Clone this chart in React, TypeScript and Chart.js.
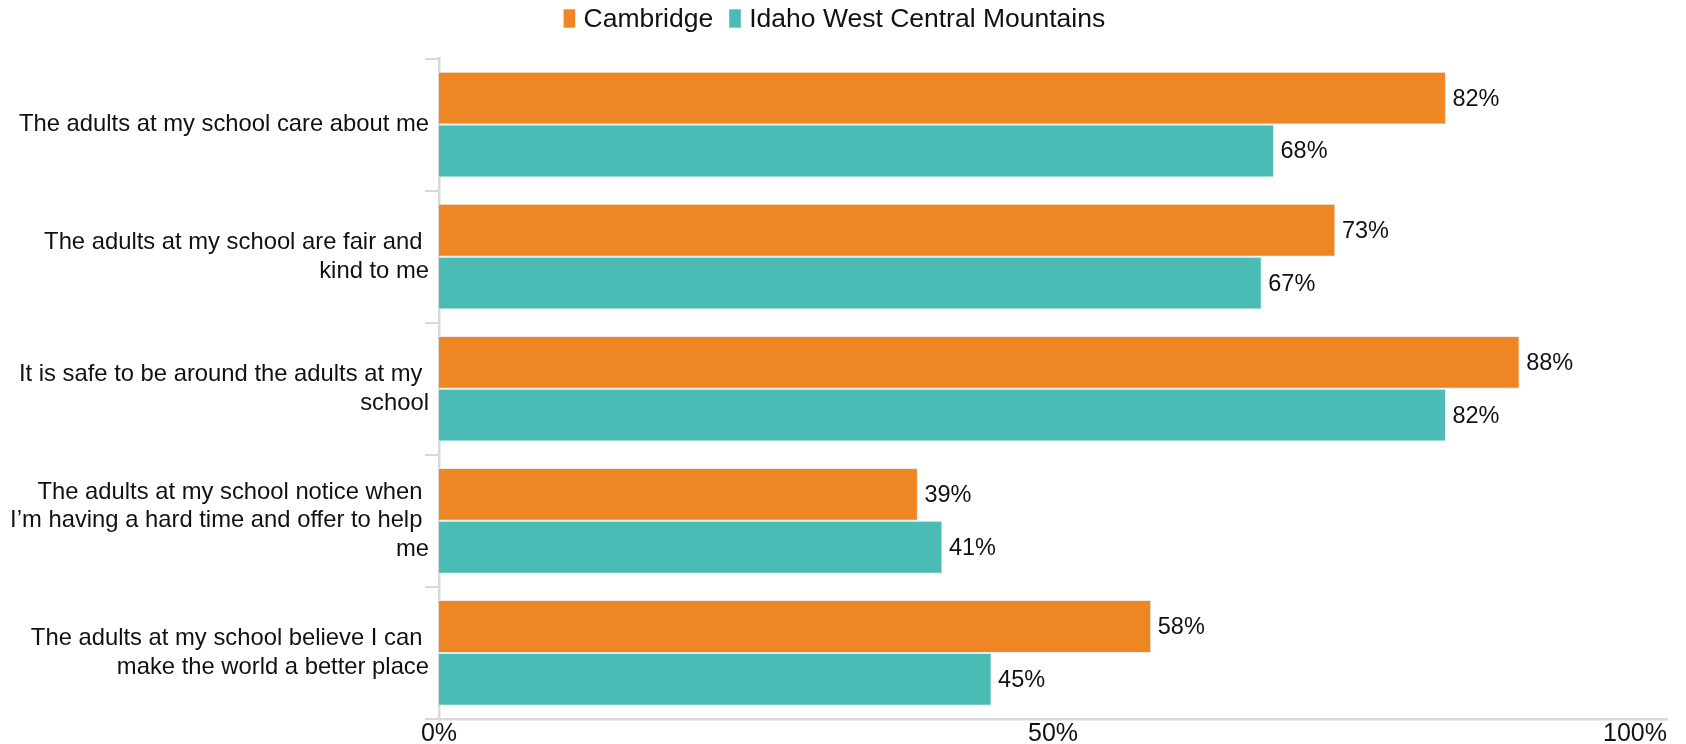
import React, { useEffect, useRef } from 'react';
import { Chart, registerables } from 'chart.js';

Chart.register(...registerables);

const categories: (string | string[])[] = [
  'The adults at my school care about me',
  ['The adults at my school are fair and ', 'kind to me'],
  ['It is safe to be around the adults at my ', 'school'],
  ['The adults at my school notice when ', 'I\u2019m having a hard time and offer to help ', 'me'],
  ['The adults at my school believe I can ', 'make the world a better place'],
];
const seriesNames = ['Cambridge', 'Idaho West Central Mountains'];
const cambridgeValues = [82, 73, 88, 39, 58];
const idahoValues = [68, 67, 82, 41, 45];
const xTickValues = [0, 50, 100];
const xTickLabels = ['0%', '50%', '100%'];
const seriesColors = ['#EF8624', '#4BBBB5'];

const FONT = '"Liberation Sans", Arial, sans-serif';
const TEXT = '#111111';
const AXIS = '#d9d9d9';

const valueLabelPlugin = {
  id: 'valueLabels',
  afterDatasetsDraw(chart: any) {
    const ctx = chart.ctx;
    ctx.save();
    ctx.font = `23.5px ${FONT}`;
    ctx.fillStyle = TEXT;
    ctx.textAlign = 'left';
    ctx.textBaseline = 'middle';
    chart.data.datasets.forEach((ds: any, di: number) => {
      const meta = chart.getDatasetMeta(di);
      meta.data.forEach((el: any, i: number) => {
        ctx.fillText(`${ds.data[i]}%`, el.x + 6.5, el.y + 1);
      });
    });
    ctx.restore();
  },
};

const xLabelPlugin = {
  id: 'xLabels',
  afterDraw(chart: any) {
    const ctx = chart.ctx;
    const scale = chart.scales.x;
    ctx.save();
    ctx.font = `25px ${FONT}`;
    ctx.fillStyle = TEXT;
    ctx.textBaseline = 'alphabetic';
    xTickValues.forEach((v, i) => {
      const px = scale.getPixelForValue(v);
      const w = ctx.measureText(xTickLabels[i]).width;
      ctx.textAlign = px + w / 2 > chart.width - 2 ? 'right' : 'center';
      ctx.fillText(xTickLabels[i], px, chart.chartArea.bottom + 21.5);
    });
    ctx.restore();
  },
};

const legendPlugin = {
  id: 'customLegend',
  afterDraw(chart: any) {
    const ctx = chart.ctx;
    ctx.save();
    ctx.font = `26.5px ${FONT}`;
    ctx.textAlign = 'left';
    ctx.textBaseline = 'alphabetic';
    const boxW = 11.6;
    const boxH = 18.4;
    const gap = 8.4;
    const itemGap = 16;
    const items = chart.data.datasets.map((ds: any) => ({
      text: ds.label,
      color: ds.backgroundColor,
      w: ctx.measureText(ds.label).width,
    }));
    const total =
      items.reduce((s: number, it: any) => s + boxW + gap + it.w, 0) + itemGap * (items.length - 1);
    let x = 834.4 - total / 2;
    items.forEach((it: any) => {
      ctx.fillStyle = it.color;
      ctx.fillRect(x, 9.3, boxW, boxH);
      ctx.fillStyle = TEXT;
      ctx.fillText(it.text, x + boxW + gap, 26.7);
      x += boxW + gap + it.w + itemGap;
    });
    ctx.restore();
  },
};

export default function App() {
  const ref = useRef<HTMLCanvasElement | null>(null);

  useEffect(() => {
    if (!ref.current) return;
    const chart = new Chart(ref.current, {
      type: 'bar',
      data: {
        labels: categories as any,
        datasets: [
          {
            label: seriesNames[0],
            data: cambridgeValues,
            backgroundColor: seriesColors[0],
            borderColor: '#ebebeb',
            borderWidth: 1,
            borderSkipped: 'start',
            barPercentage: 1,
            categoryPercentage: 0.8,
          },
          {
            label: seriesNames[1],
            data: idahoValues,
            backgroundColor: seriesColors[1],
            borderColor: '#ebebeb',
            borderWidth: 1,
            borderSkipped: 'start',
            barPercentage: 1,
            categoryPercentage: 0.8,
          },
        ],
      },
      options: {
        indexAxis: 'y',
        animation: false,
        responsive: false,
        devicePixelRatio: 1,
        layout: { padding: { top: 58.5, right: 19, left: 0, bottom: 0 } },
        scales: {
          x: {
            min: 0,
            max: 100,
            ticks: { display: false, stepSize: 50 },
            grid: { display: false, drawTicks: false },
            border: { display: true, color: AXIS, width: 2.5 },
            afterFit: (s: any) => {
              s.height = 25;
            },
          },
          y: {
            ticks: {
              font: { family: FONT, size: 23.8, lineHeight: 1.21 },
              color: TEXT,
              padding: -4,
              autoSkip: false,
            },
            grid: {
              offset: true,
              drawOnChartArea: false,
              drawTicks: true,
              tickLength: 14,
              color: AXIS,
              lineWidth: 2,
            },
            border: { display: true, color: AXIS, width: 2.5 },
            afterFit: (s: any) => {
              s.width = 439;
            },
          },
        },
        plugins: {
          legend: { display: false },
          tooltip: { enabled: false },
        },
      },
      plugins: [valueLabelPlugin, xLabelPlugin, legendPlugin],
    });
    return () => chart.destroy();
  }, []);

  return (
    <div style={{ position: 'fixed', left: 0, top: 0, width: 1686, height: 744, background: '#fff' }}>
      <canvas ref={ref} width={1686} height={744} style={{ display: 'block' }} />
    </div>
  );
}
